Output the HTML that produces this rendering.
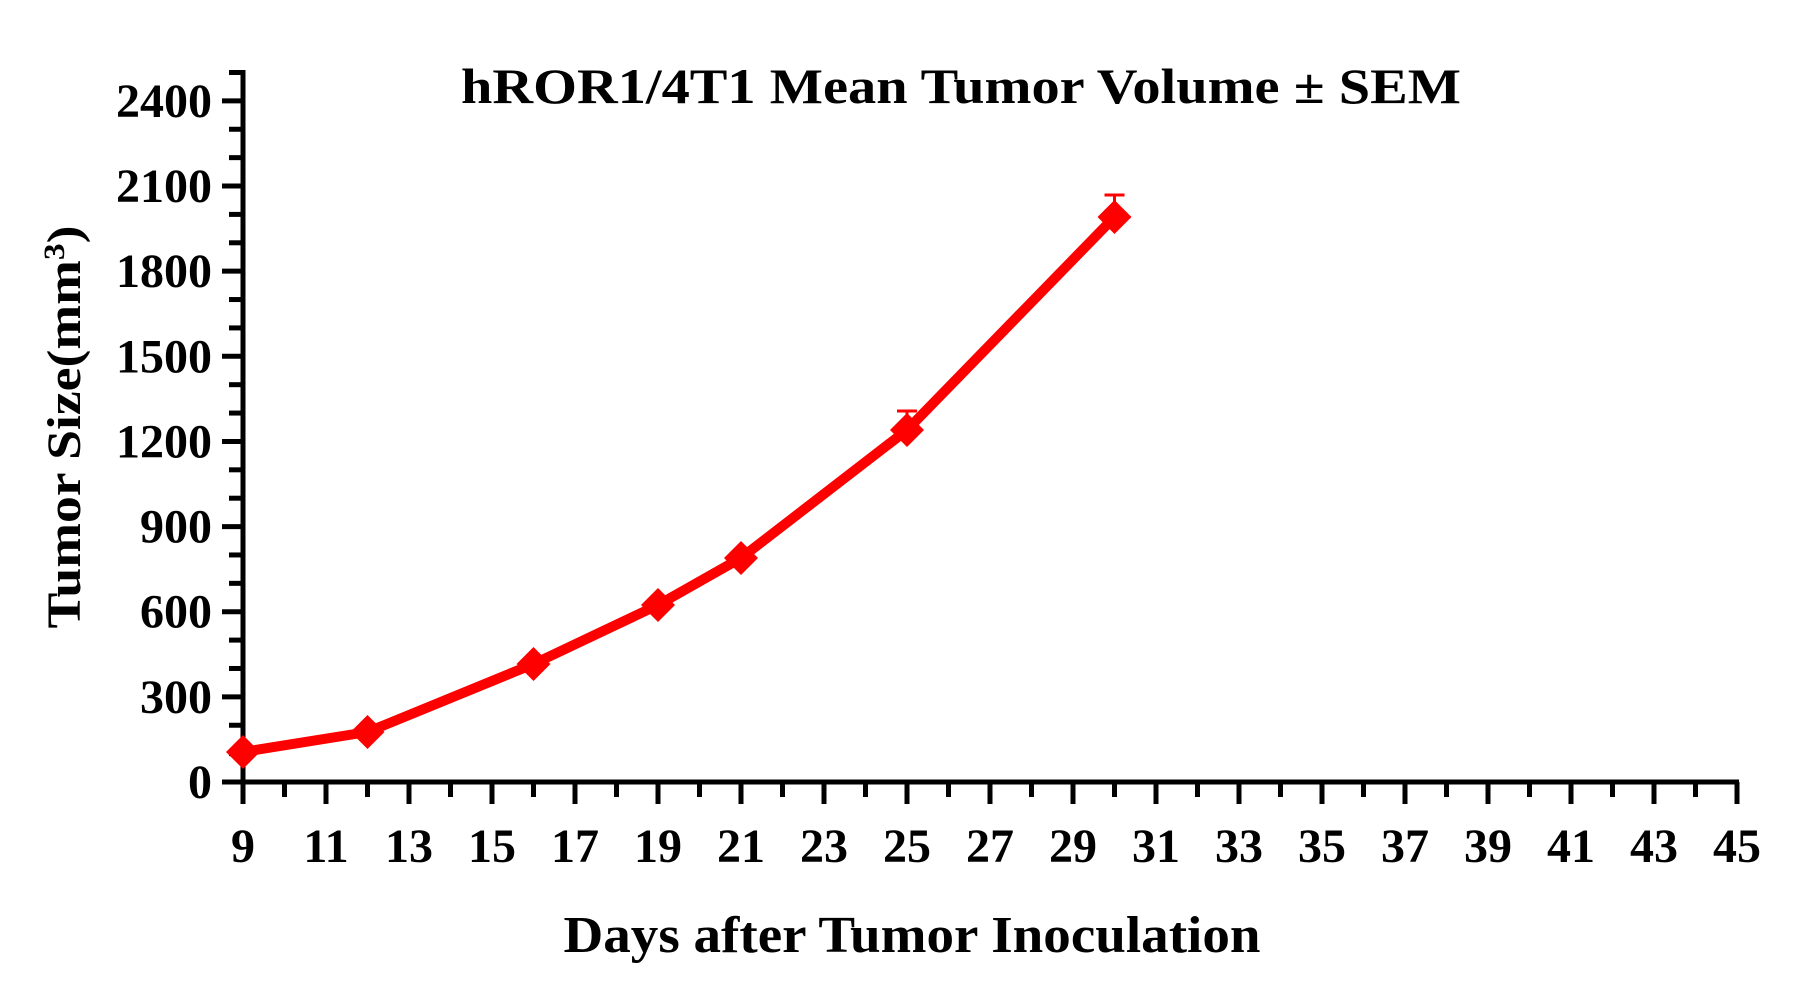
<!DOCTYPE html>
<html><head><style>html,body{margin:0;padding:0;background:#fff} svg text{font-family:"Liberation Serif","Times New Roman",serif;font-weight:bold}</style></head>
<body>
<svg width="1802" height="978" xmlns="http://www.w3.org/2000/svg">
<rect width="1802" height="978" fill="#fff"/>
<text x="961" y="103" font-size="50" text-anchor="middle" textLength="1000" lengthAdjust="spacingAndGlyphs">hROR1/4T1 Mean Tumor Volume ± SEM</text>
<text x="912" y="952" font-size="52" text-anchor="middle" textLength="697" lengthAdjust="spacingAndGlyphs">Days after Tumor Inoculation</text>
<text transform="translate(80,427) rotate(-90)" font-size="48" text-anchor="middle" textLength="403" lengthAdjust="spacingAndGlyphs">Tumor Size(mm<tspan dy="-16" font-size="30">3</tspan><tspan dy="16">)</tspan></text>
<g stroke="#000" stroke-width="5" fill="none">
<line x1="243" y1="70" x2="243" y2="785"/>
<line x1="241" y1="782" x2="1739" y2="782"/>
</g>
<g id="yt" stroke="#000" stroke-width="5"></g>
<g id="xt" stroke="#000" stroke-width="5"></g>
<g id="yl" font-size="48" text-anchor="end"></g>
<g id="xl" font-size="48" text-anchor="middle"></g>
<g stroke="#f00" stroke-width="3">
<line x1="907" y1="430" x2="907" y2="410"/><line x1="897" y1="411" x2="917" y2="411"/>
<line x1="1114.5" y1="217" x2="1114.5" y2="194"/><line x1="1104.5" y1="195" x2="1124.5" y2="195"/>
</g>
<polyline points="243,752 367.5,732 533.5,664 658,605 741,558 907,430 1114.5,217" fill="none" stroke="#f00" stroke-width="10" stroke-linejoin="round"/>
<g id="mk" fill="#f00"></g>
</svg>
<script>
var ns="http://www.w3.org/2000/svg";
function el(t,a,p,txt){var e=document.createElementNS(ns,t);for(var k in a)e.setAttribute(k,a[k]);if(txt!==undefined)e.textContent=txt;document.getElementById(p).appendChild(e);}
for(var v=0;v<=2500;v+=100){var y=782-v*0.2838;var maj=v%300==0;el('line',{x1:maj?222:229,y1:y,x2:243,y2:y},'yt');if(maj)el('text',{x:212,y:y+16},'yl',v);}
for(var d=9;d<=45;d++){var x=243+(d-9)*41.5;var maj=(d%2==1);el('line',{x1:x,y1:782,x2:x,y2:maj?804:797},'xt');if(maj)el('text',{x:x,y:862},'xl',d);}
[[243,752],[367.5,732],[533.5,664],[658,605],[741,558],[907,430],[1114.5,217]].forEach(function(p){var s=17;el('polygon',{points:(p[0])+','+(p[1]-s)+' '+(p[0]+s)+','+p[1]+' '+p[0]+','+(p[1]+s)+' '+(p[0]-s)+','+p[1]},'mk');});
</script>
</body></html>
